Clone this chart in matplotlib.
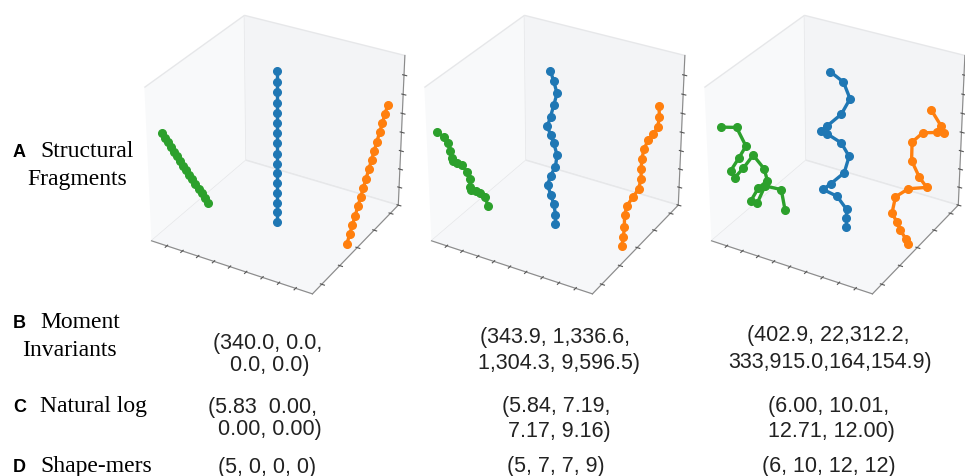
import numpy as np
import matplotlib
matplotlib.use("Agg")
import matplotlib.pyplot as plt

# fragment coordinates (x, y, z) for each panel, read off the reference
# panel 1: ideal fragments (straight)
blue1_x = [5.0] * 16
blue1_y = [5.0] * 16
blue1_z = [10.0, 9.34, 8.67, 8.01, 7.35, 6.68, 6.02, 5.36, 4.69, 4.03, 3.37, 2.70, 2.04, 1.38, 0.71, 0.05]
green1_x = [0.26, 0.44, 0.63, 0.82, 1.00, 1.19, 1.38, 1.56, 1.75, 1.94, 2.12, 2.31, 2.50, 2.68, 2.87, 3.06]
green1_y = [1.0] * 16
green1_z = [6.70, 6.46, 6.21, 5.97, 5.72, 5.48, 5.24, 4.99, 4.75, 4.50, 4.26, 4.02, 3.77, 3.53, 3.28, 3.04]
orange1_x = [9.5] * 16
orange1_y = [9.17, 8.88, 8.58, 8.29, 7.99, 7.70, 7.41, 7.11, 6.82, 6.52, 6.23, 5.93, 5.64, 5.34, 5.05, 4.75]
orange1_z = [7.10, 6.64, 6.19, 5.73, 5.27, 4.82, 4.36, 3.90, 3.45, 2.99, 2.53, 2.08, 1.62, 1.16, 0.71, 0.25]

# panel 2: slightly bent fragments
blue2_x = [4.6, 4.8, 5.0, 4.8, 4.6, 4.4, 4.6, 4.8, 5.0, 4.9, 4.6, 4.4, 4.6, 4.8, 4.9, 4.9]
blue2_y = [5.0] * 16
blue2_z = [9.9, 9.3, 8.6, 7.8, 7.0, 6.3, 5.8, 5.3, 4.6, 3.8, 3.1, 2.4, 1.8, 1.2, 0.5, -0.1]
green2_x = [0.00, 0.39, 0.65, 0.79, 0.85, 0.93, 1.18, 1.48, 1.80, 1.94, 1.98, 2.04, 2.32, 2.58, 2.88, 3.07]
green2_y = [1.0] * 16
green2_z = [6.68, 6.49, 6.15, 5.72, 5.27, 5.08, 5.06, 5.01, 4.63, 4.20, 3.74, 3.51, 3.58, 3.52, 3.37, 2.84]
orange2_x = [9.5] * 16
orange2_y = [8.09, 8.20, 8.01, 7.54, 6.93, 6.49, 6.21, 6.21, 6.21, 5.95, 5.29, 4.64, 4.39, 4.39, 4.32, 4.14]
orange2_z = [7.56, 6.76, 6.20, 6.03, 5.95, 5.61, 5.05, 4.40, 3.75, 3.23, 3.05, 2.88, 2.37, 1.61, 0.99, 0.44]

# panel 3: strongly folded fragments
blue3_x = [4.60, 5.39, 5.79, 5.26, 4.40, 4.01, 4.40, 5.26, 5.75, 5.45, 4.60, 4.11, 5.00, 5.60, 5.60, 5.60]
blue3_y = [5.0] * 16
blue3_z = [9.85, 9.42, 8.48, 7.34, 6.34, 5.89, 5.80, 5.48, 4.74, 3.56, 2.54, 2.00, 1.82, 1.13, 0.55, -0.1]
green3_x = [0.23, 1.23, 1.78, 1.29, 0.75, 0.99, 1.58, 2.22, 2.88, 3.07, 2.48, 1.98, 2.38, 2.91, 3.92, 4.13]
green3_y = [1.0] * 16
green3_z = [7.07, 7.35, 6.32, 5.37, 4.39, 4.01, 4.84, 5.87, 5.20, 4.48, 3.80, 2.79, 2.76, 4.09, 4.17, 2.91]
orange3_x = [9.5] * 16
orange3_y = [7.18, 8.45, 8.85, 7.95, 6.27, 5.04, 5.04, 6.02, 6.93, 4.75, 3.30, 2.95, 3.49, 3.92, 4.58, 4.86]
orange3_z = [7.75, 6.06, 5.40, 5.90, 6.75, 6.80, 5.61, 3.97, 2.80, 3.93, 4.22, 3.37, 2.48, 1.70, 0.68, 0.19]

panels = [
    [(green1_x, green1_y, green1_z), (blue1_x, blue1_y, blue1_z), (orange1_x, orange1_y, orange1_z)],
    [(green2_x, green2_y, green2_z), (blue2_x, blue2_y, blue2_z), (orange2_x, orange2_y, orange2_z)],
    [(green3_x, green3_y, green3_z), (blue3_x, blue3_y, blue3_z), (orange3_x, orange3_y, orange3_z)],
]
colors = ['#2ca02c', '#1f77b4', '#ff7f0e']

# row labels
row_letters = ['A', 'B', 'C', 'D']
row_names = [['Structural', 'Fragments'], ['Moment', 'Invariants'], ['Natural log'], ['Shape-mers']]

# descriptor values, one list of lines per column
moment_text = [['(340.0, 0.0,', '0.0, 0.0)'],
               ['(343.9, 1,336.6,', '1,304.3, 9,596.5)'],
               ['(402.9, 22,312.2,', '333,915.0,164,154.9)']]
log_text = [['(5.83  0.00,', '0.00, 0.00)'],
            ['(5.84, 7.19,', '7.17, 9.16)'],
            ['(6.00, 10.01,', '12.71, 12.00)']]
mer_text = [['(5, 0, 0, 0)'], ['(5, 7, 7, 9)'], ['(6, 10, 12, 12)']]

W, H = 965, 477
fig = plt.figure(figsize=(W / 100, H / 100), dpi=100)


def fx(px):
    return px / W


def fy(py):
    return 1 - py / H


for i, frags in enumerate(panels):
    cx = 273 + 280 * i
    ax = fig.add_axes([fx(cx - 150), fy(154 + 150), 300 / W, 300 / H], projection='3d')
    for (xs, ys, zs), c in zip(frags, colors):
        ax.plot(xs, ys, zs, '-o', color=c, lw=2.4, ms=5.5)
    ax.set_xlim(0, 10)
    ax.set_ylim(0, 10)
    ax.set_zlim(0, 10)
    ax.set_box_aspect((1.04, 1.04, 0.98), zoom=1.02)
    ax.view_init(elev=30, azim=-60)
    ax.set_xticks([1, 2, 3, 4, 5, 6, 7, 8, 9])
    ax.set_yticks([1, 3, 5, 7, 9])
    ax.set_zticks([0, 1.25, 2.5, 3.75, 5, 6.25, 7.5, 8.75])
    ax.set_xticklabels([])
    ax.set_yticklabels([])
    ax.set_zticklabels([])
    ax.grid(False)
    ax.patch.set_alpha(0)
    ax.xaxis.set_pane_color((0.972, 0.976, 0.98, 1))
    ax.yaxis.set_pane_color((0.952, 0.957, 0.965, 1))
    ax.zaxis.set_pane_color((0.965, 0.97, 0.975, 1))
    for a in (ax.xaxis, ax.yaxis, ax.zaxis):
        a.pane.set_edgecolor('#e6e7e9')
        a.line.set_color('#8a8a8a')
        a.line.set_linewidth(0.8)
    ax.tick_params(colors='#555555')

# left labels
serif = 'Liberation Serif'
sans = 'Liberation Sans'
label_base = [157, 328, 412, 472]
second_line = {0: (27, 185), 1: (22, 356)}
for r, letter in enumerate(row_letters):
    fig.text(fx(13), fy(label_base[r]), letter, family=sans, weight='bold', fontsize=13, va='baseline')
    fig.text(fx(40), fy(label_base[r]), row_names[r][0], family=serif, fontsize=17, va='baseline')
    if len(row_names[r]) > 1:
        x2, y2 = second_line[r]
        fig.text(fx(x2), fy(y2), row_names[r][1], family=serif, fontsize=17, va='baseline')

# value text, positions per column and line
moment_pos = [[(213, 349), (230, 371)], [(480, 343), (478, 369)], [(747, 341), (728, 368)]]
log_pos = [[(208, 413), (218, 435)], [(502, 412), (508, 437)], [(768, 412), (768, 437)]]
mer_pos = [[(218, 473)], [(507, 472)], [(762, 472)]]
for texts, poss in [(moment_text, moment_pos), (log_text, log_pos), (mer_text, mer_pos)]:
    for lines, pos in zip(texts, poss):
        for s, (x, y) in zip(lines, pos):
            fig.text(fx(x), fy(y), s, family=sans, fontsize=15.5, va='baseline', color='#222222')

fig.savefig('out.png', dpi=100)
